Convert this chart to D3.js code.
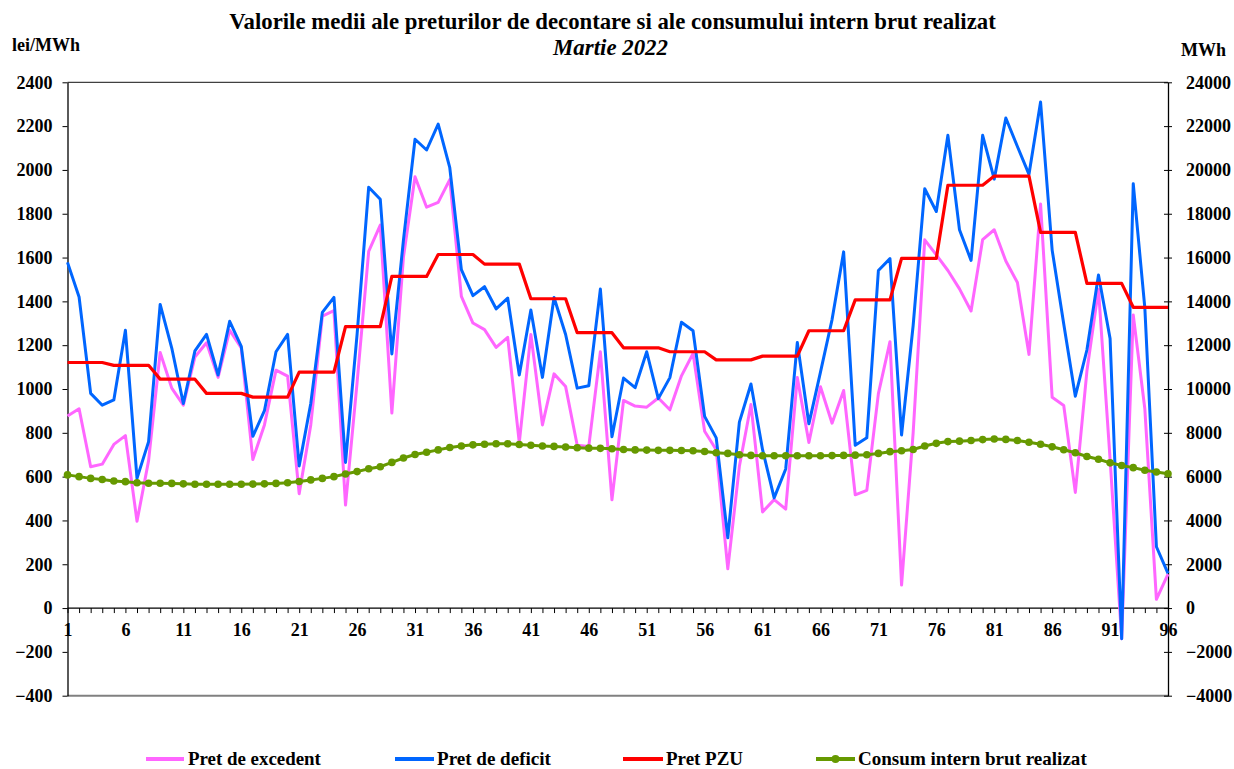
<!DOCTYPE html>
<html><head><meta charset="utf-8">
<script src="https://cdn.jsdelivr.net/npm/d3@7"></script>
<style>
html,body{margin:0;padding:0;background:#fff;}
svg{display:block;font-family:"Liberation Serif","Times New Roman",serif;font-weight:bold;}
</style></head>
<body>
<svg id="chart" width="1234" height="769"></svg>
<script>
const intervals = d3.range(1, 97);
const pretExcedent = [877,910,645,657,747,787,396,673,1167,1004,926,1146,1211,1053,1268,1187,678,836,1086,1059,522,836,1333,1358,470,1030,1628,1748,890,1602,1969,1830,1852,1956,1423,1301,1271,1190,1236,755,1249,836,1069,1011,743,738,1170,494,948,922,917,959,905,1060,1162,807,723,179,647,929,439,495,452,1052,756,1010,844,993,517,537,979,1216,105,800,1681,1612,1541,1457,1356,1682,1727,1584,1486,1158,1845,962,925,528,1082,1455,680,-140,1338,910,40,155];
const pretDeficit = [1578,1420,980,926,950,1268,592,760,1386,1187,934,1174,1249,1064,1309,1195,784,901,1170,1249,649,934,1350,1418,665,1250,1921,1866,1160,1680,2140,2091,2209,2010,1545,1426,1467,1366,1415,1064,1361,1053,1418,1249,1004,1015,1456,782,1050,1006,1170,956,1052,1305,1266,875,777,321,849,1023,723,503,635,1212,841,1077,1317,1626,743,777,1541,1595,790,1290,1914,1810,2158,1727,1587,2158,1958,2237,2107,1980,2310,1634,1297,967,1178,1520,1231,-140,1937,1370,280,158];
const pretPZU = [1121,1121,1121,1121,1108,1108,1108,1108,1045,1045,1045,1045,980,980,980,980,963,963,963,963,1077,1077,1077,1077,1285,1285,1285,1285,1514,1514,1514,1514,1614,1614,1614,1614,1570,1570,1570,1570,1412,1412,1412,1412,1257,1257,1257,1257,1188,1188,1188,1188,1170,1170,1170,1170,1133,1133,1133,1133,1150,1150,1150,1150,1266,1266,1266,1266,1407,1407,1407,1407,1596,1596,1596,1596,1930,1930,1930,1930,1972,1972,1972,1972,1715,1715,1715,1715,1482,1482,1482,1482,1373,1373,1373,1373];
const consum = [6080,6000,5920,5870,5800,5770,5720,5700,5700,5690,5670,5650,5650,5650,5650,5650,5660,5670,5690,5720,5780,5850,5920,6000,6120,6230,6360,6450,6650,6850,7010,7110,7220,7330,7400,7450,7480,7500,7500,7470,7430,7400,7380,7350,7320,7300,7290,7270,7240,7220,7210,7200,7200,7190,7180,7150,7090,7060,7000,6970,6950,6950,6950,6950,6950,6950,6960,6970,6980,7000,7060,7140,7180,7240,7400,7520,7600,7620,7650,7690,7720,7700,7650,7570,7480,7360,7230,7090,6920,6790,6630,6510,6410,6290,6210,6130];
const leftTicks = d3.range(-400, 2401, 200);
const rightTicks = d3.range(-4000, 24001, 2000);
const xLabelEvery = 5;
const titleText = "Valorile medii ale preturilor de decontare si ale consumului intern brut realizat";
const subtitleText = "Martie 2022";
const leftUnit = "lei/MWh";
const rightUnit = "MWh";
const seriesNames = ["Pret de excedent","Pret de deficit","Pret PZU","Consum intern brut realizat"];

const svg = d3.select("#chart");
svg.append("rect").attr("width",1234).attr("height",769).attr("fill","#fff");

const L = 67.5, R = 1168, T = 82.3, B = 695.7;
const x = d3.scaleLinear().domain([1,96]).range([L,R]);
const yL = d3.scaleLinear().domain([-400,2400]).range([B,T]);
const yR = d3.scaleLinear().domain([-4000,24000]).range([B,T]);

// plot borders
svg.append("line").attr("x1",L).attr("x2",R).attr("y1",T).attr("y2",T).attr("stroke","#404040").attr("stroke-width",1.2);
svg.append("line").attr("x1",L).attr("x2",R).attr("y1",B).attr("y2",B).attr("stroke","#808080").attr("stroke-width",2);

const fontSz = 18;
const gL = svg.append("g").attr("transform",`translate(${L},0)`)
  .call(d3.axisLeft(yL).tickValues(leftTicks).tickSize(5).tickSizeOuter(0).tickPadding(10).tickFormat(d3.format("d")));
const gR = svg.append("g").attr("transform",`translate(${R},0)`)
  .call(d3.axisRight(yR).tickValues(rightTicks).tickSize(5).tickSizeOuter(0).tickPadding(13).tickFormat(d3.format("d")));
gR.selectAll(".tick line").attr("x1",-4).attr("x2",4);
const gB = svg.append("g").attr("transform",`translate(0,${yL(0)})`)
  .call(d3.axisBottom(x).tickValues(intervals).tickSize(5).tickSizeOuter(0).tickPadding(10)
    .tickFormat(d => ((d-1) % xLabelEvery === 0) ? d : ""));
gB.select(".domain").attr("d",`M${L},0H${R}`);

[gL,gR,gB].forEach(g=>{
  g.selectAll("text").attr("font-family",'"Liberation Serif","Times New Roman",serif').attr("font-weight","bold").attr("font-size",fontSz).attr("fill","#000");
  g.selectAll("line").attr("stroke","#000");
  g.select(".domain").attr("stroke","#000").attr("stroke-width",1.3);
});

const line = (yS, arr) => d3.line().x((d,i)=>x(intervals[i])).y(d=>yS(d))(arr);
const colors = {exc:"#FF66FF", def:"#0066FF", pzu:"#FF0000", con:"#669900"};
svg.append("path").attr("d",line(yL,pretExcedent)).attr("fill","none").attr("stroke",colors.exc).attr("stroke-width",3).attr("stroke-linejoin","round");
svg.append("path").attr("d",line(yL,pretDeficit)).attr("fill","none").attr("stroke",colors.def).attr("stroke-width",3).attr("stroke-linejoin","round");
svg.append("path").attr("d",line(yL,pretPZU)).attr("fill","none").attr("stroke",colors.pzu).attr("stroke-width",3.2).attr("stroke-linejoin","round");
svg.append("path").attr("d",line(yR,consum)).attr("fill","none").attr("stroke",colors.con).attr("stroke-width",3);
svg.append("g").selectAll("circle").data(consum).join("circle")
  .attr("cx",(d,i)=>x(intervals[i])).attr("cy",d=>yR(d)).attr("r",3.8).attr("fill",colors.con);

function fit(sel, target){
  const w = sel.node().getComputedTextLength();
  const fs = parseFloat(sel.attr("font-size"));
  sel.attr("font-size", fs*target/w);
}
const t1 = svg.append("text").attr("x",612.5).attr("y",29).attr("text-anchor","middle").attr("font-size",20).text(titleText);
fit(t1, 767);
const t2 = svg.append("text").attr("x",610.5).attr("y",55).attr("text-anchor","middle").attr("font-size",20).attr("font-style","italic").text(subtitleText);
fit(t2, 115);
svg.append("text").attr("x",12).attr("y",51).attr("font-size",18).text(leftUnit);
svg.append("text").attr("x",1181).attr("y",56).attr("font-size",18).text(rightUnit);

const legendItems = [
  {name:seriesNames[0], c:colors.exc, x1:146, x2:184, tx:188, tw:133, m:false},
  {name:seriesNames[1], c:colors.def, x1:395, x2:434, tx:437, tw:114, m:false},
  {name:seriesNames[2], c:colors.pzu, x1:623, x2:663, tx:666, tw:77, m:false},
  {name:seriesNames[3], c:colors.con, x1:816, x2:855, tx:858, tw:229, m:true}
];
const lg = svg.append("g");
legendItems.forEach(it=>{
  lg.append("line").attr("x1",it.x1).attr("x2",it.x2).attr("y1",759).attr("y2",759).attr("stroke",it.c).attr("stroke-width",4);
  if(it.m) lg.append("circle").attr("cx",(it.x1+it.x2)/2).attr("cy",759).attr("r",4).attr("fill",it.c);
  const t = lg.append("text").attr("x",it.tx).attr("y",765).attr("font-size",19).text(it.name);
  fit(t, it.tw);
});
</script>
</body></html>
